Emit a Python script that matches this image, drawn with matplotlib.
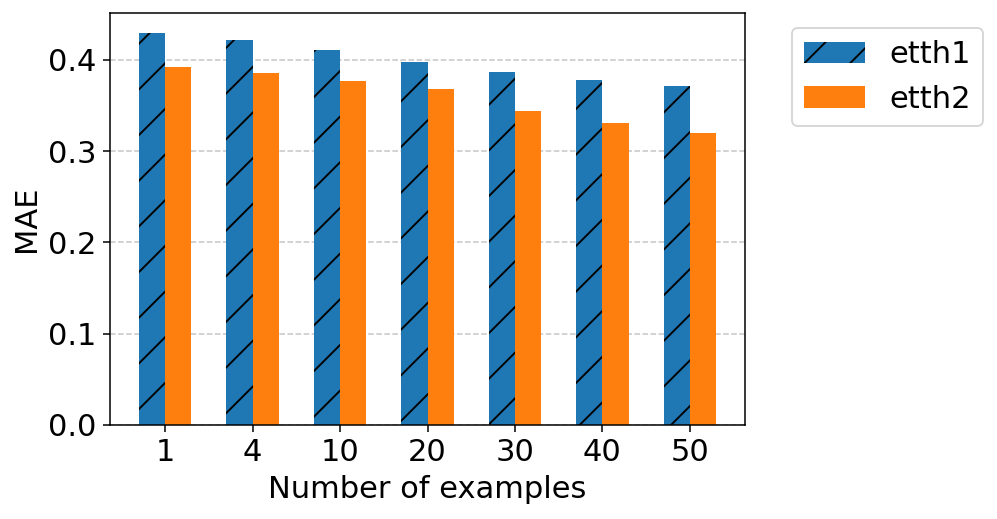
import matplotlib
matplotlib.use("Agg")
import matplotlib.pyplot as plt
import numpy as np

categories = ["1", "4", "10", "20", "30", "40", "50"]
etth1 = [0.430, 0.422, 0.411, 0.398, 0.387, 0.378, 0.371]
etth2 = [0.392, 0.386, 0.377, 0.368, 0.344, 0.331, 0.320]

DPI = 137
plt.rcParams["font.family"] = "DejaVu Sans"

fig = plt.figure(figsize=(997 / DPI, 519 / DPI), dpi=DPI)
ax = fig.add_axes([110 / 997, 1 - 425 / 519, 635 / 997, 412 / 519])

x = np.arange(len(categories))
w = 0.3
ax.bar(x - w / 2, etth1, w, color="#1f77b4", hatch="/", label="etth1", zorder=2)
ax.bar(x + w / 2, etth2, w, color="#ff7f0e", label="etth2", zorder=2)

fs = 16
ax.set_xticks(x)
ax.set_xticklabels(categories, fontsize=fs)
ax.tick_params(axis="y", labelsize=fs)
ax.set_yticks([0.0, 0.1, 0.2, 0.3, 0.4])
ax.set_xlabel("Number of examples", fontsize=fs)
ax.set_ylabel("MAE", fontsize=fs)

ax.yaxis.grid(True, linestyle="--", color="gray", alpha=0.45, linewidth=0.8, zorder=0)
ax.set_axisbelow(True)

ax.legend(loc="upper left", bbox_to_anchor=(1.05, 1.0), fontsize=fs)

fig.savefig("out.png", dpi=DPI)
